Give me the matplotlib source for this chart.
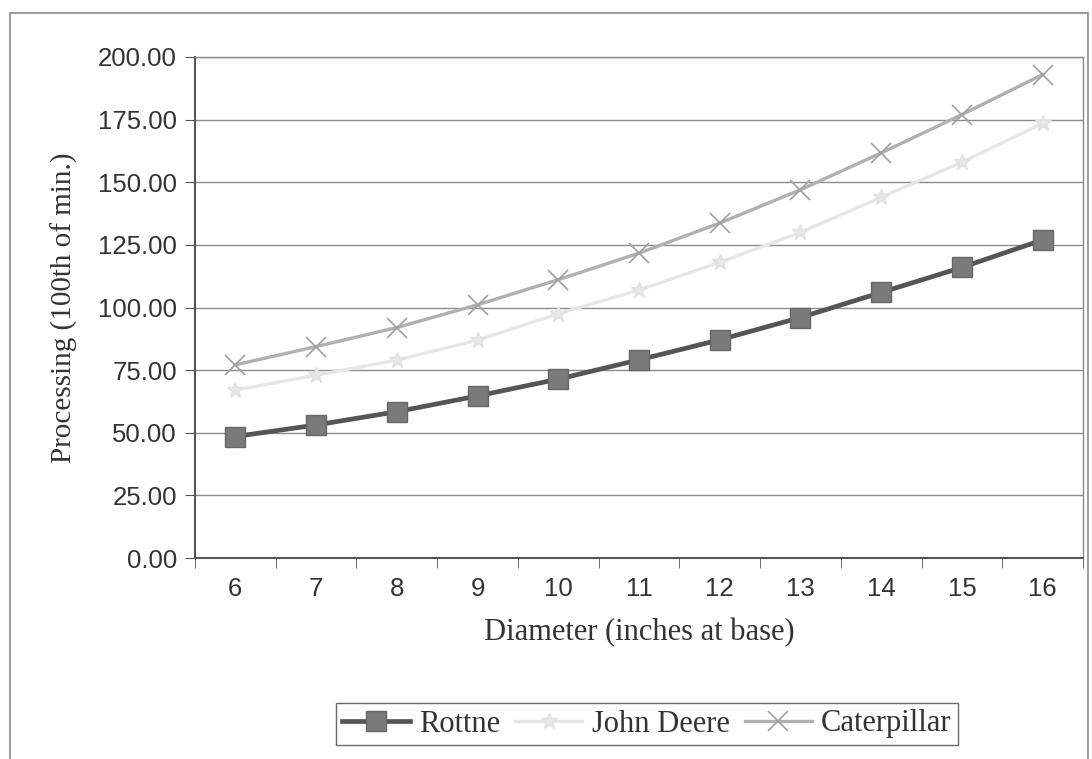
import matplotlib
matplotlib.use("Agg")
import matplotlib.pyplot as plt
from matplotlib.patches import Rectangle
from matplotlib.ticker import FixedLocator, FuncFormatter

diameters = [6, 7, 8, 9, 10, 11, 12, 13, 14, 15, 16]
rottne = [48.5, 53.1, 58.4, 64.7, 71.4, 79.1, 87.1, 96.0, 106.0, 116.0, 127.0]
john_deere = [67.0, 73.0, 79.0, 87.0, 97.5, 107.0, 118.0, 130.0, 144.0, 158.0, 173.5]
caterpillar = [77.1, 84.4, 92.0, 101.1, 111.1, 121.7, 133.7, 147.0, 161.7, 177.0, 193.0]
y_ticks = [0, 25, 50, 75, 100, 125, 150, 175, 200]

sans = ["Liberation Sans", "DejaVu Sans"]
serif = ["Liberation Serif", "DejaVu Serif"]

fig = plt.figure(figsize=(10.92, 7.59), dpi=100)
fig.patch.set_facecolor("white")

# outer chart border
fig.add_artist(Rectangle((10 / 1092, -0.01), 1078 / 1092, 1 - 13 / 759 + 0.01,
                         transform=fig.transFigure, fill=False,
                         edgecolor="#8a8a8a", linewidth=1.2))

ax = fig.add_axes([195 / 1092, 1 - 558 / 759, 888 / 1092, 501 / 759])
x = list(range(len(diameters)))

ax.plot(x, caterpillar, color="#b0b0b0", linewidth=2.4, marker="x",
        markersize=15, markeredgewidth=1.2, markeredgecolor="#a0a0a0",
        label="Caterpillar", zorder=3)
ax.plot(x, john_deere, color="#e6e6e6", linewidth=2.4, marker="*",
        markersize=12, markerfacecolor="#e8e8e8", markeredgecolor="#e0e0e0",
        label="John Deere", zorder=3)
ax.plot(x, rottne, color="#555555", linewidth=3.4, marker="s",
        markersize=14, markerfacecolor="#7a7a7a", markeredgecolor="#666666",
        label="Rottne", zorder=4)

ax.set_xlim(-0.5, len(diameters) - 0.5)
ax.set_ylim(0, 200)
ax.set_yticks(y_ticks)
ax.yaxis.set_major_formatter(FuncFormatter(lambda v, p: f"{v:.2f}"))
ax.grid(axis="y", color="#8c8c8c", linewidth=1.0)
ax.set_axisbelow(True)

ax.set_xticks(x)
ax.set_xticklabels([str(d) for d in diameters])
ax.xaxis.set_minor_locator(FixedLocator([i - 0.5 for i in range(len(diameters) + 1)]))
ax.tick_params(axis="x", which="major", length=0, pad=14)
ax.tick_params(axis="x", which="minor", length=7, color="#555555", direction="out")
ax.tick_params(axis="y", length=7, color="#555555", pad=6)
for lab in ax.get_xticklabels() + ax.get_yticklabels():
    lab.set_fontfamily(sans)
    lab.set_fontsize(18.5)
    lab.set_color("#333333")

for side in ["left", "bottom"]:
    ax.spines[side].set_color("#555555")
    ax.spines[side].set_linewidth(1.5)
for side in ["top", "right"]:
    ax.spines[side].set_color("#8a8a8a")
    ax.spines[side].set_linewidth(1.0)

ax.set_xlabel("Diameter (inches at base)", fontfamily=serif, fontsize=22,
              color="#333333", labelpad=12)
ax.set_ylabel("Processing (100th of min.)", fontfamily=serif, fontsize=21,
              color="#333333", labelpad=14)

handles, labels = ax.get_legend_handles_labels()
order = [2, 1, 0]
leg = fig.legend([handles[i] for i in order], [labels[i] for i in order],
                 loc="center", bbox_to_anchor=(647 / 1092, 1 - 724 / 759),
                 ncol=3, frameon=True, fancybox=False, shadow=False,
                 prop={"family": serif, "size": 22}, handlelength=2.2,
                 handletextpad=0.3, columnspacing=0.5, borderpad=0.2,
                 borderaxespad=0.2)
leg.get_frame().set_edgecolor("#444444")
leg.get_frame().set_linewidth(1.0)
for t in leg.get_texts():
    t.set_color("#333333")

fig.savefig("out.png", dpi=100)
